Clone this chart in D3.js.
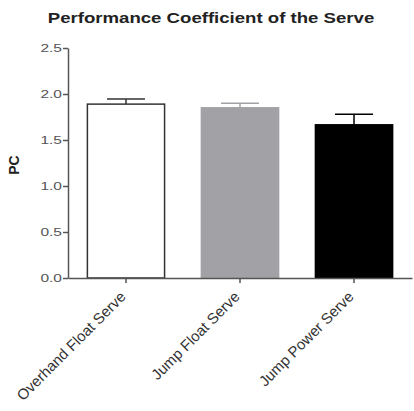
<!DOCTYPE html>
<html>
<head>
<meta charset="utf-8">
<script src="https://cdn.jsdelivr.net/npm/d3@7"></script>
<style>
  body { margin: 0; background: #fff; }
  svg { display: block; font-family: "Liberation Sans", Arial, sans-serif; }
</style>
</head>
<body>
<div id="chart"></div>
<script>
const categories = ["Overhand Float Serve", "Jump Float Serve", "Jump Power Serve"];
const means = [1.89, 1.85, 1.665];
const errors = [0.055, 0.05, 0.115];
const fills = ["#ffffff", "#a2a2a6", "#000000"];
const strokes = ["#333333", "#a2a2a6", "#000000"];
const yTicks = [0.0, 0.5, 1.0, 1.5, 2.0, 2.5];

const W = 414, H = 411;
const margin = { top: 48, right: 2, bottom: 133, left: 68 };
const width = W - margin.left - margin.right,
      height = H - margin.top - margin.bottom;
const stretch = 1.2; // the source picture is a bit wide

const svg = d3.select("#chart")
  .append("svg")
  .attr("width", W)
  .attr("height", H);

const g = svg.append("g")
  .attr("transform", `translate(${margin.left},${margin.top})`);

const y = d3.scaleLinear().domain([0, 2.5]).range([height, 0]);

const x = d3.scaleBand()
  .domain(categories)
  .range([0, width])
  .paddingInner(0.323)
  .paddingOuter(0.17);

// bars
g.selectAll(".bar")
  .data(categories)
  .join("rect")
  .attr("class", "bar")
  .attr("x", d => x(d))
  .attr("y", (d, i) => y(means[i]))
  .attr("width", x.bandwidth())
  .attr("height", (d, i) => y(0) - y(means[i]))
  .attr("fill", (d, i) => fills[i])
  .attr("stroke", (d, i) => strokes[i])
  .attr("stroke-width", 1.5);

// error bars (upper only)
const capHalf = 19;
g.selectAll(".err")
  .data(categories)
  .join("g")
  .attr("class", "err")
  .each(function(d, i) {
    const cx = x(d) + x.bandwidth() / 2;
    const el = d3.select(this);
    el.append("line")
      .attr("x1", cx).attr("x2", cx)
      .attr("y1", y(means[i])).attr("y2", y(means[i] + errors[i]))
      .attr("stroke", strokes[i]).attr("stroke-width", 1.5);
    el.append("line")
      .attr("x1", cx - capHalf).attr("x2", cx + capHalf)
      .attr("y1", y(means[i] + errors[i])).attr("y2", y(means[i] + errors[i]))
      .attr("stroke", strokes[i]).attr("stroke-width", 1.5);
  });

// y axis
const yAxis = g.append("g")
  .call(d3.axisLeft(y).tickValues(yTicks).tickFormat(d3.format(".1f")).tickSize(5).tickSizeOuter(0));
yAxis.select(".domain").attr("stroke", "#555").attr("stroke-width", 1.5);
yAxis.selectAll(".tick line").attr("stroke", "#555").attr("stroke-width", 1.5);
yAxis.selectAll("text")
  .attr("x", 0)
  .attr("transform", `translate(-6,0) scale(${stretch + 0.15},1)`)
  .style("font-size", "11.5px")
  .style("fill", "#555");

// x axis
const xAxis = g.append("g")
  .attr("transform", `translate(0,${height})`)
  .call(d3.axisBottom(x).tickSize(5).tickSizeOuter(0));
xAxis.select(".domain").attr("stroke", "#555").attr("stroke-width", 1.5);
xAxis.selectAll(".tick line").attr("stroke", "#555").attr("stroke-width", 1.5);
xAxis.selectAll("text")
  .attr("text-anchor", "end")
  .attr("dy", "0.35em")
  .attr("transform", "translate(-3,16) rotate(-45)")
  .attr("x", 0).attr("y", 0)
  .style("font-size", "15px")
  .style("fill", "#333");

// y label
svg.append("text")
  .attr("transform", `translate(19,${margin.top + height / 2 + 2}) rotate(-90)`)
  .attr("text-anchor", "middle")
  .style("font-size", "14px")
  .style("font-weight", "bold")
  .style("fill", "#222")
  .text("PC");

// title
svg.append("text")
  .attr("transform", `translate(211,23) scale(${stretch},1)`)
  .attr("text-anchor", "middle")
  .style("font-size", "15.5px")
  .style("font-weight", "bold")
  .style("fill", "#222")
  .text("Performance Coefficient of the Serve");
</script>
</body>
</html>
